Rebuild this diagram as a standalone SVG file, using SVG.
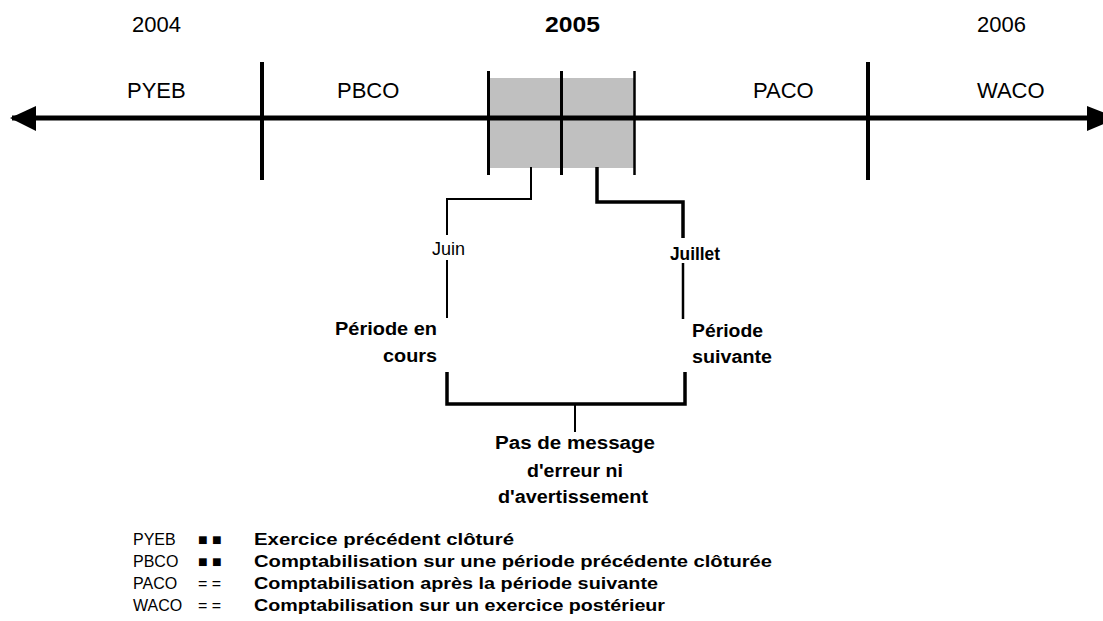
<svg xmlns="http://www.w3.org/2000/svg" width="1103" height="621" viewBox="0 0 1103 621">
<style>
text{font-family:"Liberation Sans",Arial,sans-serif;fill:#000}
.top{font-size:22px}
.lbl{font-size:18px;font-weight:bold}
.reg{font-size:18px}
.leg{font-size:16px}
.legd{font-size:16px;font-weight:bold}
.ln{stroke:#000;fill:none;stroke-linecap:butt}
</style>
<rect width="1103" height="621" fill="#fff"/>
<g id="period-box">
<rect x="488" y="78" width="146" height="90" fill="#c0c0c0"/>
</g>
<g id="connectors">
<line class="ln" x1="12" y1="118" x2="1092" y2="118" stroke-width="5"/>
<polygon points="10,118 36,106 36,131" fill="#000"/>
<polygon points="1087,106 1118,118 1087,131" fill="#000"/>
<line class="ln" x1="262" y1="62" x2="262" y2="180" stroke-width="4"/>
<line class="ln" x1="868" y1="62" x2="868" y2="180" stroke-width="4"/>
<line class="ln" x1="488.5" y1="71" x2="488.5" y2="175" stroke-width="3"/>
<line class="ln" x1="561.5" y1="71" x2="561.5" y2="175" stroke-width="3"/>
<line class="ln" x1="634.5" y1="71" x2="634.5" y2="175" stroke-width="2.5"/>
<polyline class="ln" points="531,167 531,199 447,199 447,235" stroke-width="2"/>
<line class="ln" x1="447" y1="260" x2="447" y2="318" stroke-width="2"/>
<polyline class="ln" points="597,167 597,202 683,202 683,238" stroke-width="3.5"/>
<line class="ln" x1="683" y1="263" x2="683" y2="319" stroke-width="2.5"/>
<polyline class="ln" points="447,372 447,404 685,404 685,372" stroke-width="3.5"/>
<line class="ln" x1="575" y1="404" x2="575" y2="432" stroke-width="2"/>
</g>
<g id="years">
<text class="top" x="132" y="32">2004</text>
<text class="top" x="545" y="32" font-weight="bold" textLength="55" lengthAdjust="spacingAndGlyphs">2005</text>
<text class="top" x="977" y="32">2006</text>
</g>
<g id="pyeb"><text class="top" x="127" y="98">PYEB</text></g>
<g id="pbco"><text class="top" x="337" y="98">PBCO</text></g>
<g id="paco"><text class="top" x="753" y="98">PACO</text></g>
<g id="waco"><text class="top" x="977" y="98">WACO</text></g>
<g id="juin"><text class="reg" x="432" y="255">Juin</text></g>
<g id="juillet"><text class="lbl" x="670" y="260" textLength="50" lengthAdjust="spacingAndGlyphs">Juillet</text></g>
<g id="periode-en-cours">
<text class="lbl" x="335" y="335" textLength="102" lengthAdjust="spacingAndGlyphs">Période en</text>
<text class="lbl" x="383" y="362" textLength="54" lengthAdjust="spacingAndGlyphs">cours</text>
</g>
<g id="periode-suivante">
<text class="lbl" x="692" y="337" textLength="71" lengthAdjust="spacingAndGlyphs">Période</text>
<text class="lbl" x="692" y="363" textLength="80" lengthAdjust="spacingAndGlyphs">suivante</text>
</g>
<g id="pas-de-message">
<text class="lbl" x="495" y="449" textLength="160" lengthAdjust="spacingAndGlyphs">Pas de message</text>
<text class="lbl" x="527" y="477" textLength="96" lengthAdjust="spacingAndGlyphs">d'erreur ni</text>
<text class="lbl" x="498" y="503" textLength="150" lengthAdjust="spacingAndGlyphs">d'avertissement</text>
</g>
<g id="legend">
<text class="leg" x="133" y="545">PYEB</text>
<text class="leg" x="198" y="545">■ ■</text>
<text class="legd" x="254" y="545" textLength="260" lengthAdjust="spacingAndGlyphs">Exercice précédent clôturé</text>
<text class="leg" x="133" y="567">PBCO</text>
<text class="leg" x="198" y="567">■ ■</text>
<text class="legd" x="254" y="567" textLength="518" lengthAdjust="spacingAndGlyphs">Comptabilisation sur une période précédente clôturée</text>
<text class="leg" x="133" y="589">PACO</text>
<text class="leg" x="198" y="589">= =</text>
<text class="legd" x="254" y="589" textLength="404" lengthAdjust="spacingAndGlyphs">Comptabilisation après la période suivante</text>
<text class="leg" x="133" y="611">WACO</text>
<text class="leg" x="198" y="611">= =</text>
<text class="legd" x="254" y="611" textLength="411" lengthAdjust="spacingAndGlyphs">Comptabilisation sur un exercice postérieur</text>
</g>
</svg>
